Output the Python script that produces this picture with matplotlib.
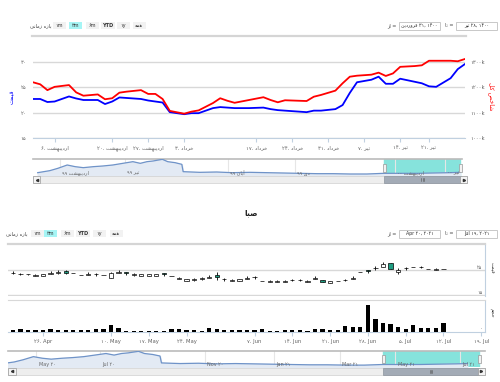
import numpy as np
import matplotlib
matplotlib.use("Agg")
import matplotlib.pyplot as plt
from matplotlib.patches import Rectangle
from matplotlib.transforms import blended_transform_factory

plt.rcParams['font.family'] = ['DejaVu Sans']

W, H = 500, 382

# ---- top chart: price (left axis) and total index (right axis, in k) ----
top_days = [0, 1, 2, 3, 5, 6, 7, 9, 10, 11, 12, 13, 15, 16, 17, 18, 19, 21, 22, 23,
            25, 26, 27, 28, 30, 32, 33, 34, 35, 37, 38, 39, 40, 42, 43, 44, 45, 47, 48, 49,
            50, 51, 53, 54, 55, 56, 58, 59, 60]
top_price = [22.7, 22.7, 22.1, 22.2, 23.2, 22.8, 22.5, 22.5, 21.7, 22.2,
             23.0, 22.9, 22.7, 22.4, 22.2, 22.0, 20.1, 19.7, 19.9, 19.9,
             20.9, 21.1, 21.0, 20.9, 20.9, 21.0, 20.7, 20.5, 20.4, 20.2,
             20.1, 20.4, 20.4, 20.7, 21.5, 23.9, 26.0, 26.5, 27.1, 25.7,
             25.7, 26.7, 26.1, 25.8, 25.2, 25.1, 26.8, 28.6, 29.6]
top_index = [1220, 1212, 1189, 1202, 1209, 1180, 1167, 1172, 1153, 1157,
             1179, 1183, 1189, 1174, 1174, 1154, 1107, 1096, 1104, 1109,
             1138, 1157, 1147, 1139, 1150, 1161, 1150, 1141, 1149, 1147,
             1146, 1163, 1170, 1187, 1216, 1242, 1246, 1250, 1258, 1245,
             1255, 1281, 1284, 1287, 1305, 1305, 1305, 1303, 1312]
price_ticks = [15, 20, 25, 30]
index_ticks = [1000, 1100, 1200, 1300]
top_tick_days = [3, 11, 16, 21, 31, 36, 41, 46, 51, 55]
top_tick_daynum = [6, 20, 27, 3, 17, 24, 31, 7, 14, 21]
top_tick_month = ['اردیبهشت'] * 3 + ['خرداد'] * 4 + ['تیر'] * 3

# ---- navigator history (weeks, price) ----
nav_weeks = [0.7, 2.5, 3.7, 5.1, 6.3, 7.5, 9.0, 10.4, 11.9, 13.4, 14.9, 16.0, 17.0, 17.9,
             19.3, 20.1, 21.2, 22.2, 22.4, 24.9, 27.4, 29.7, 32.4, 34.9, 37.3, 39.8, 42.4,
             44.8, 47.3, 49.8, 52.3, 54.8, 57.4, 59.7, 62.2, 63.7]
nav_vals = [20, 32, 46, 66, 56, 50, 56, 60, 66, 76, 86, 76, 86, 90, 100, 86, 80, 70, 26,
            22, 24, 20, 22, 20, 18, 16, 14, 14, 12, 12, 16, 16, 16, 18, 20, 22]
top_nav_ticks = [4.0, 13.7, 29.1, 39.1, 54.0, 61.5]
top_nav_month = ['اردیبهشت', 'تیر', 'آبان', 'دی', 'اردیبهشت', 'تیر']
top_nav_year = ['۹۹', '۹۹', '۹۹', '۹۹', '۰۰', '۰۰']
bot_nav_ticks = [5.5, 14.1, 28.3, 37.6, 46.5, 54.0, 62.7]
bot_nav_labels = ['May ۲۰', 'Jul ۲۰', 'Nov ۲۰', 'Jan ۲۱', 'Mar ۲۱', 'May ۲۱', 'Jul ۲۱']

# ---- bottom chart: daily candles and volume (millions) ----
c_open = [23.7, 23.5, 23.4, 22.7, 22.8, 23.6, 23.7, 24.6, 23.9, 23.1, 23.0, 23.5, 23.1, 22.0,
          23.9, 24.0, 23.2, 22.7, 22.7, 22.7, 23.6, 22.7, 21.6, 20.7, 21.1, 21.5, 21.9, 22.9,
          21.5, 20.8, 20.7, 21.6, 22.3, 20.7, 20.4, 20.4, 20.4, 21.1, 21.1, 20.4, 21.4, 20.9,
          19.9, 20.7, 21.1, 21.5, 24.3, 24.8, 25.9, 26.2, 27.8, 24.3, 25.9, 26.3, 26.3, 25.5,
          25.2, 25.4]
c_high = [24.6, 24.0, 23.5, 23.3, 23.4, 24.6, 25.0, 25.0, 24.0, 23.2, 24.2, 24.0, 23.2, 24.3,
          25.0, 24.1, 24.0, 23.4, 23.4, 23.5, 23.7, 22.8, 22.1, 21.4, 22.0, 22.4, 23.0, 24.2,
          22.0, 21.3, 21.4, 22.6, 22.8, 20.8, 20.9, 20.9, 20.9, 21.6, 21.6, 20.9, 22.8, 21.0,
          20.6, 20.8, 21.6, 22.7, 24.4, 24.9, 26.6, 28.2, 27.9, 25.8, 26.4, 26.4, 26.5, 25.6,
          26.0, 25.6]
c_low = [23.6, 22.9, 23.2, 22.6, 22.7, 23.5, 23.6, 23.6, 23.7, 22.9, 22.9, 22.8, 22.9, 21.9,
         23.8, 23.0, 22.8, 22.6, 22.6, 22.6, 22.7, 22.5, 21.5, 20.6, 20.8, 21.2, 21.7, 21.0,
         20.8, 20.7, 20.6, 21.5, 21.6, 20.5, 20.3, 20.3, 20.3, 20.5, 20.5, 20.3, 21.3, 20.3,
         19.8, 20.5, 20.5, 21.4, 24.1, 23.8, 25.0, 26.1, 25.5, 23.6, 25.2, 26.1, 26.0, 25.3,
         25.1, 25.3]
c_close = [23.8, 23.4, 23.3, 23.2, 23.3, 23.7, 24.3, 24.0, 23.8, 23.0, 23.6, 23.4, 23.0, 24.0,
           24.3, 23.9, 23.6, 23.3, 23.3, 23.3, 23.5, 22.6, 22.0, 21.3, 21.6, 22.0, 22.4, 22.4,
           21.4, 21.2, 21.3, 21.8, 22.2, 20.6, 20.8, 20.8, 20.8, 21.0, 21.0, 20.8, 22.0, 20.4,
           20.5, 20.6, 21.0, 21.9, 24.2, 24.7, 25.8, 27.6, 25.6, 24.9, 25.8, 26.2, 26.1, 25.4,
           25.5, 25.5]
volume = [2.2, 2.8, 1.9, 1.9, 1.9, 3.1, 1.9, 1.9, 1.9, 1.9, 1.9, 2.4, 2.4, 6.3,
          3.8, 1.4, 1.4, 1.4, 1.4, 1.4, 1.4, 3.1, 3.1, 1.9, 1.9, 1.4, 3.8, 2.8, 1.9, 1.9, 1.9,
          1.9, 1.9,
          2.5, 1.4, 1.4, 1.9, 1.9, 1.9, 1.4, 2.4, 2.4, 1.9, 1.9, 5.2, 4.7, 4.7, 25.1, 12.5,
          8.7, 7.8, 4.7, 3.1, 6.6, 3.8, 3.8, 3.8, 8.5]
candle_ticks = [15, 25]
bot_tick_idx = [4, 13, 18, 23, 32, 37, 42, 47, 52, 57, 62]
bot_tick_day = [26, 10, 17, 24, 7, 14, 21, 28, 5, 12, 19]
bot_tick_month = ['Apr', 'May', 'May', 'May', 'Jun', 'Jun', 'Jun', 'Jun', 'Jul', 'Jul', 'Jul']

# ---- minimal Persian shaping (presentation forms, visual order) ----
FORMS = {
    'ا': (0xFE8D, 0xFE8E, None, None), 'آ': (0xFE81, 0xFE82, None, None),
    'ب': (0xFE8F, 0xFE90, 0xFE91, 0xFE92), 'ت': (0xFE95, 0xFE96, 0xFE97, 0xFE98),
    'ج': (0xFE9D, 0xFE9E, 0xFE9F, 0xFEA0), 'ح': (0xFEA1, 0xFEA2, 0xFEA3, 0xFEA4),
    'خ': (0xFEA5, 0xFEA6, 0xFEA7, 0xFEA8), 'د': (0xFEA9, 0xFEAA, None, None),
    'ر': (0xFEAD, 0xFEAE, None, None), 'ز': (0xFEAF, 0xFEB0, None, None),
    'ش': (0xFEB5, 0xFEB6, 0xFEB7, 0xFEB8), 'ص': (0xFEB9, 0xFEBA, 0xFEBB, 0xFEBC),
    'ف': (0xFED1, 0xFED2, 0xFED3, 0xFED4), 'ق': (0xFED5, 0xFED6, 0xFED7, 0xFED8),
    'ک': (0xFB8E, 0xFB8F, 0xFB90, 0xFB91), 'ل': (0xFEDD, 0xFEDE, 0xFEDF, 0xFEE0),
    'م': (0xFEE1, 0xFEE2, 0xFEE3, 0xFEE4), 'ن': (0xFEE5, 0xFEE6, 0xFEE7, 0xFEE8),
    'ه': (0xFEE9, 0xFEEA, 0xFEEB, 0xFEEC), 'و': (0xFEED, 0xFEEE, None, None),
    'ی': (0xFBFC, 0xFBFD, 0xFBFE, 0xFBFF),
}


def fa(text):
    out = []
    for i, ch in enumerate(text):
        f = FORMS.get(ch)
        if f is None:
            out.append(ch)
            continue
        prev = text[i - 1] if i > 0 else ''
        nxt = text[i + 1] if i + 1 < len(text) else ''
        jp = prev in FORMS and FORMS[prev][2] is not None
        jn = f[2] is not None and nxt in FORMS
        code = f[3] if (jp and jn) else f[1] if jp else f[2] if jn else f[0]
        out.append(chr(code))
    return ''.join(reversed(out))


DIG = str.maketrans('0123456789', '۰۱۲۳۴۵۶۷۸۹')


def fnum(v):
    return str(v).translate(DIG)


fig = plt.figure(figsize=(5, 3.82), dpi=100)
fig.patch.set_facecolor('white')


def px_axes(x0, y0, x1, y1, **kw):
    return fig.add_axes([x0 / W, 1 - y1 / H, (x1 - x0) / W, (y1 - y0) / H], **kw)


GRID = '#D8D8D8'
AXC = '#C0D0E0'
LAB = '#606060'
FS = 3.8

# ---------- top main chart ----------
ax = px_axes(33, 55, 465, 138)
ax.plot(top_days, top_price, color='#0000FF', lw=1.3, zorder=3)
ax.set_xlim(0, 60)
ax.set_ylim(15, 31.38)
ax.set_yticks(price_ticks)
ax.set_yticklabels([fnum(v) for v in price_ticks], fontsize=FS, color=LAB)
ax.grid(axis='y', color=GRID, lw=1)
for s in ['top', 'left', 'right']:
    ax.spines[s].set_visible(False)
ax.spines['bottom'].set_color(AXC)
ax.tick_params(axis='y', length=0, pad=5)
ax.set_xticks(top_tick_days)
ax.set_xticklabels([fnum(d) + '. ' + fa(m) for d, m in zip(top_tick_daynum, top_tick_month)],
                   fontsize=FS, color=LAB)
ax.tick_params(axis='x', length=3, color=AXC, pad=2)
ax.set_ylabel(fa('قیمت'), color='#0000FF', fontsize=4.5, labelpad=4)

ax2 = ax.twinx()
ax2.plot(top_days, top_index, color='#FF0000', lw=1.3, zorder=3)
ax2.set_ylim(1000, 1327.7)
ax2.set_yticks(index_ticks)
ax2.set_yticklabels([fnum(v) + 'k' for v in index_ticks], fontsize=FS, color=LAB)
ax2.tick_params(axis='y', length=0, pad=4)
for s in ax2.spines.values():
    s.set_visible(False)
ax2.set_ylabel(fa('شاخص کل'), color='#FF0000', fontsize=4.5, rotation=270, labelpad=7)


def navigator(rect, xlim, sel, ticks, labels):
    nv = px_axes(*rect)
    nv.axvspan(sel[0], sel[1], color='#86E3DC', zorder=0)
    for t in ticks:
        nv.axvline(t, color='#E6E6E6', lw=0.8, zorder=1)
    nv.fill_between(nav_weeks, nav_vals, color='#E3EAF4', zorder=2)
    nv.plot(nav_weeks, nav_vals, color='#6F93C8', lw=0.9, zorder=3)
    for t, lab in zip(ticks, labels):
        nv.text(t + 0.3, 18, lab, fontsize=3.5, color='#666666', va='center', ha='left',
                zorder=4, clip_on=True)
    nv.set_xlim(*xlim)
    nv.set_ylim(0, 102)
    nv.set_xticks([])
    nv.set_yticks([])
    for s in ['left', 'right', 'bottom']:
        nv.spines[s].set_visible(False)
    nv.spines['top'].set_color('#BBBBBB')
    nv.spines['top'].set_linewidth(1.2)
    return nv


navigator((33, 159, 462, 176), (0, 64), (52.4, 63.7), top_nav_ticks,
          [y + ' ' + fa(m) for y, m in zip(top_nav_year, top_nav_month)])

# ---------- bottom chart: candles ----------
idx = np.arange(len(c_close))
o = np.array(c_open)
c = np.array(c_close)
up = c >= o
axc = px_axes(8, 244, 485, 296)
axc.vlines(idx, c_low, c_high, color='black', lw=0.6, zorder=2)
axc.bar(idx, np.maximum(np.abs(c - o), 0.12), bottom=np.minimum(o, c), width=0.56,
        color=np.where(up, 'white', '#1E9E82'), edgecolor='black', lw=0.5, zorder=3)
axc.set_xlim(-0.64, 62.5)
axc.set_ylim(14.6, 35.4)
axc.set_yticks(candle_ticks)
axc.set_yticklabels([])
axc.tick_params(length=0)
axc.set_xticks([])
axc.grid(axis='y', color=GRID, lw=1)
for s in ['top', 'left', 'bottom']:
    axc.spines[s].set_visible(False)
axc.spines['right'].set_color(AXC)
tr = blended_transform_factory(axc.transAxes, axc.transData)
for v in candle_ticks:
    axc.text(0.994, v, fnum(v), transform=tr, ha='right', va='bottom', fontsize=3.5, color=LAB)

# ---------- bottom chart: volume ----------
axv = px_axes(8, 300, 485, 332)
axv.bar(idx, volume, width=0.56, color='black', zorder=3)
axv.set_xlim(-0.64, 62.5)
axv.set_ylim(0, 30)
axv.set_yticks([])
for s in ['left']:
    axv.spines[s].set_visible(False)
axv.spines['top'].set_color(GRID)
axv.spines['right'].set_color(AXC)
axv.spines['bottom'].set_color(AXC)
axv.set_xticks(bot_tick_idx)
axv.set_xticklabels([fnum(d) + '. ' + m for d, m in zip(bot_tick_day, bot_tick_month)],
                    fontsize=FS, color=LAB)
axv.tick_params(axis='x', length=3, color=AXC, pad=2)
axv.text(0.994, 0.3, fnum(0), transform=blended_transform_factory(axv.transAxes, axv.transData),
         ha='right', va='bottom', fontsize=3.5, color=LAB)

navigator((8, 351, 485, 367), (1.67, 66.1), (52.35, 65.3), bot_nav_ticks, bot_nav_labels)

# ---------- overlay: toolbars, inputs, scrollbars, titles ----------
ov = fig.add_axes([0, 0, 1, 1], zorder=10)
ov.set_xlim(0, W)
ov.set_ylim(H, 0)
ov.axis('off')
ov.patch.set_visible(False)

BTN = ['۱m', '۳m', '۶m', 'YTD', '۱y', fa('همه')]


def toolbar(y, label_x, centers, date_from, date_to, line):
    ov.text(label_x, y, fa('بازه زمانی'), fontsize=3.6, color='#444444', ha='center', va='center')
    for i, (cx, t) in enumerate(zip(centers, BTN)):
        wdt = 13 if t != 'YTD' else 14
        ov.add_patch(Rectangle((cx - wdt / 2, y - 3.6), wdt, 7.2, facecolor='#A6F5F5' if i == 1 else '#F2F2F2',
                               edgecolor='none'))
        ov.text(cx, y, t, fontsize=3.6, color='#333333', ha='center', va='center',
                fontweight='bold' if t == 'YTD' else 'normal')
    ov.text(392, y, fa('از') + ' =', fontsize=3.5, color='#444444', ha='center', va='center')
    ov.text(449, y, fa('تا') + ' =', fontsize=3.5, color='#444444', ha='center', va='center')
    for x0, txt in [(399, date_from), (456, date_to)]:
        ov.add_patch(Rectangle((x0, y - 4), 41, 8, facecolor='white', edgecolor='#C8C8C8', lw=0.7))
        ov.text(x0 + 20.5, y, txt, fontsize=3.4, color='#333333', ha='center', va='center')
    ov.plot(line, [y + 10.5, y + 10.5], color='#D5D5D5', lw=1.6)


toolbar(25.5, 41, [59.5, 75.5, 92, 108, 123, 139],
        fa('فروردین') + ' ۳۱, ۱۴۰۰', fa('تیر') + ' ۲۸, ۱۴۰۰', [32, 466])
toolbar(233.5, 17, [37, 50.5, 67.5, 83, 99, 116],
        'Apr ۲۰, ۲۰۲۱', 'Jul ۱۹, ۲۰۲۱', [8, 485])


def scrollbar(x0, x1, y0, y1, t0, t1):
    h = y1 - y0
    ov.add_patch(Rectangle((x0, y0), x1 - x0, h, facecolor='#EEEEEE', edgecolor='#D0D0D0', lw=0.5))
    ov.add_patch(Rectangle((t0, y0), t1 - t0, h, facecolor='#A3ABB6', edgecolor='#8C949E', lw=0.5))
    for k in (-1.2, 0, 1.2):
        ov.plot([(t0 + t1) / 2 + k] * 2, [y0 + 2, y1 - 2], color='#555555', lw=0.4)
    for bx, mk in [(x0, '<'), (x1 - h, '>')]:
        ov.add_patch(Rectangle((bx, y0), h, h, facecolor='#F4F4F4', edgecolor='#999999', lw=0.5))
        ov.plot(bx + h / 2, y0 + h / 2, marker=mk[0].replace('<', '<').replace('>', '>'),
                ms=1.6, color='#333333')


def handles(xs, yc):
    for hx in xs:
        ov.add_patch(Rectangle((hx - 1.5, yc - 4), 3, 8, facecolor='#F2F2F2', edgecolor='#999999', lw=0.5))


scrollbar(33, 467, 176, 183, 384, 461)
handles([384, 460], 167.5)
scrollbar(8, 485, 367.5, 375, 383, 479)
handles([383, 479], 359)

ov.text(251, 213, fa('صبا'), fontsize=5.5, fontweight='bold', color='#222222', ha='center', va='center')
ov.text(492, 268, fa('قیمت'), fontsize=3.6, color='#333333', rotation=270, ha='center', va='center')
ov.text(492, 313, fa('حجم'), fontsize=3.6, color='#333333', rotation=270, ha='center', va='center')

fig.savefig('out.png', dpi=100)
